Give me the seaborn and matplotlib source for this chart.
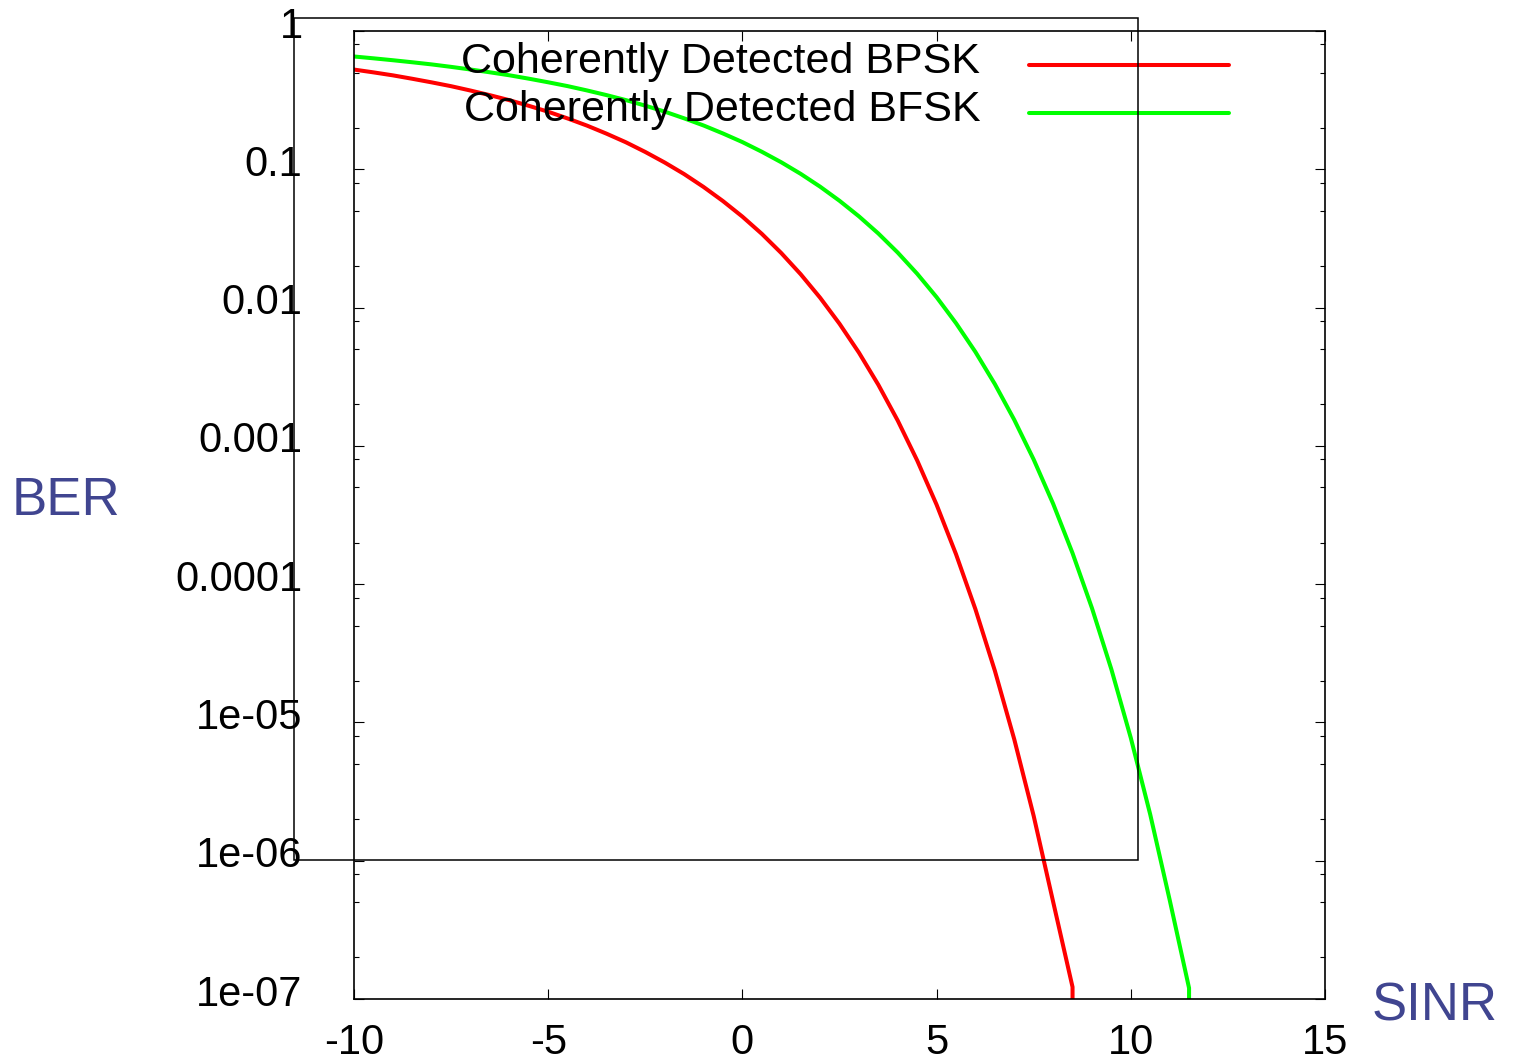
import numpy as np
import pandas as pd
import matplotlib
matplotlib.use("Agg")
import matplotlib.pyplot as plt
import matplotlib.transforms as mtransforms
from matplotlib.patches import Rectangle
from matplotlib.ticker import FixedLocator, NullFormatter
import seaborn as sns

# ---------------- data (smoothed by hand) ----------------
series_labels = ["Coherently Detected BPSK", "Coherently Detected BFSK"]

sinr_bpsk = [-10, -9.5, -9, -8.5, -8, -7.5, -7, -6.5, -6, -5.5, -5, -4.5, -4, -3.5,
             -3, -2.5, -2, -1.5, -1, -0.5, 0, 0.5, 1, 1.5, 2, 2.5, 3, 3.5, 4, 4.5,
             5, 5.5, 6, 6.5, 7, 7.5, 8, 8.5, 8.5]
ber_bpsk = [0.5261, 0.5022, 0.4779, 0.4514, 0.4251, 0.3989, 0.3710, 0.3434, 0.3160,
            0.2878, 0.2607, 0.2331, 0.2069, 0.1810, 0.1568, 0.1334, 0.1119, 0.09234,
            0.07451, 0.05888, 0.04546, 0.03413, 0.02480, 0.01743, 0.01179, 0.00764,
            0.004723, 0.002764, 0.001522, 7.84e-4, 3.753e-4, 1.646e-4, 6.58e-5,
            2.365e-5, 7.54e-6, 2.104e-6, 5.054e-7, 1.22e-7, 1e-9]

sinr_bfsk = [-10, -9.5, -9, -8.5, -8, -7.5, -7, -6.5, -6, -5.5, -5, -4.5, -4, -3.5,
             -3, -2.5, -2, -1.5, -1, -0.5, 0, 0.5, 1, 1.5, 2, 2.5, 3, 3.5, 4, 4.5,
             5, 5.5, 6, 6.5, 7, 7.5, 8, 8.5, 9, 9.5, 10, 10.5, 11, 11.5, 11.5]
ber_bfsk = [0.6541, 0.6346, 0.6147, 0.5942, 0.5733, 0.5503, 0.5266, 0.5026, 0.4784,
            0.4521, 0.4257, 0.3994, 0.3716, 0.3440, 0.3165, 0.2884, 0.2612, 0.2336,
            0.2074, 0.1815, 0.1573, 0.1339, 0.1124, 0.0927, 0.0749, 0.0592, 0.0457,
            0.03433, 0.02497, 0.01756, 0.01189, 0.00771, 0.004775, 0.002797, 0.001542,
            7.96e-4, 3.815e-4, 1.675e-4, 6.71e-5, 2.42e-5, 7.73e-6, 2.16e-6, 5.22e-7,
            1.2e-7, 1e-9]

x_ticks = [-10, -5, 0, 5, 10, 15]
y_ticks = [1, 0.1, 0.01, 0.001, 0.0001, 1e-5, 1e-6, 1e-7]
y_tick_labels = ["1", "0.1", "0.01", "0.001", "0.0001", "1e-05", "1e-06", "1e-07"]
x_label = "SINR"
y_label = "BER"

df = pd.concat([
    pd.DataFrame({"SINR": sinr_bpsk, "BER": ber_bpsk, "series": series_labels[0]}),
    pd.DataFrame({"SINR": sinr_bfsk, "BER": ber_bfsk, "series": series_labels[1]}),
], ignore_index=True)

# ---------------- style ----------------
sns.set_style("ticks")
plt.rcParams["font.family"] = ["Liberation Sans", "DejaVu Sans"]
plt.rcParams["text.color"] = "black"
plt.rcParams["axes.labelcolor"] = "black"

W, H = 1516, 1060
fig = plt.figure(figsize=(W / 100, H / 100), dpi=100)
fig.patch.set_facecolor("white")
ax = fig.add_axes([354 / W, 1 - 999 / H, 971 / W, 968 / H])
ax.set_facecolor("white")

sns.lineplot(data=df, x="SINR", y="BER", hue="series", hue_order=series_labels,
             palette=["#ff0000", "#00ff00"], estimator=None, sort=False,
             linewidth=2.9, ax=ax)

ax.set_yscale("log")
ax.set_xlim(-10, 15)
ax.set_ylim(1e-7, 1)

ax.xaxis.set_major_locator(FixedLocator(x_ticks))
ax.set_xticklabels([str(t) for t in x_ticks])
ax.yaxis.set_major_locator(FixedLocator(y_ticks))
ax.set_yticklabels(y_tick_labels)
ax.yaxis.set_minor_locator(FixedLocator([m * 10.0 ** k for k in range(-7, 0) for m in (2, 5, 8)]))
ax.yaxis.set_minor_formatter(NullFormatter())
ax.xaxis.set_minor_locator(FixedLocator([]))

ax.tick_params(which="both", direction="in", top=True, right=True, colors="black", width=0.8)
ax.tick_params(which="major", length=7.2)
ax.tick_params(which="minor", length=3.6)
ax.tick_params(axis="y", which="major", labelsize=30, pad=37)
ax.tick_params(axis="x", which="major", labelsize=30, pad=17)

for s in ax.spines.values():
    s.set_visible(True)
    s.set_linewidth(1.2)
    s.set_color("black")

offset = mtransforms.ScaledTranslation(0, 9 / 100, fig.dpi_scale_trans)
for lab in ax.get_yticklabels():
    lab.set_transform(lab.get_transform() + offset)

label_color = "#404590"
ax.set_ylabel(y_label, rotation=0, fontsize=38, color=label_color, ha="left", va="center")
ax.yaxis.set_label_coords((12 - 354) / 971, 1 - (501 - 31) / 968)
ax.set_xlabel(x_label, fontsize=38, color=label_color, ha="left", va="center")
ax.xaxis.set_label_coords((1372 - 354) / 971, 1 - (1007 - 31) / 968)

handles, labels = ax.get_legend_handles_labels()
leg = ax.legend(handles, labels, loc="upper right",
                bbox_to_anchor=(1229 / W, 1 - 49 / H), bbox_transform=fig.transFigure,
                frameon=False, markerfirst=False, fontsize=31,
                handlelength=4.65, handletextpad=1.13, labelspacing=0.19,
                borderpad=0, borderaxespad=0)
for line in leg.get_lines():
    line.set_linewidth(2.9)
text_offset = mtransforms.ScaledTranslation(0, 7 / 100, fig.dpi_scale_trans)
for t in leg.get_texts():
    t.set_color("black")
    t.set_transform(t.get_transform() + text_offset)

# stray frame present in the reference
fig.add_artist(Rectangle((294 / W, 1 - 860 / H), (1138 - 294) / W, (860 - 18) / H,
                         transform=fig.transFigure, fill=False, edgecolor="black",
                         linewidth=1.1, zorder=5))

fig.savefig("out.png", dpi=100, facecolor="white")
